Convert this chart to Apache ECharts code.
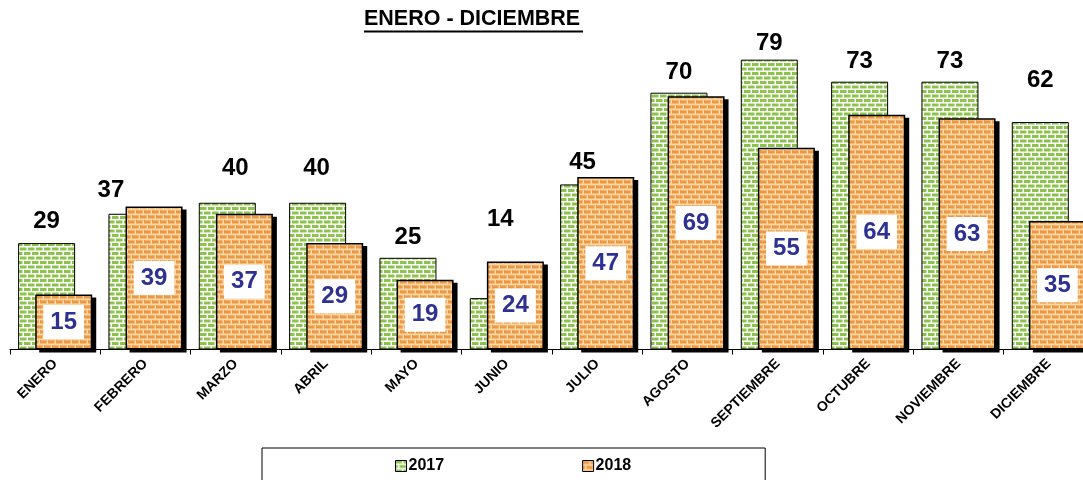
<!DOCTYPE html>
<html>
<head>
<meta charset="utf-8">
<style>
  html, body { margin: 0; padding: 0; background: #ffffff; }
  #chart { width: 1083px; height: 480px; }
</style>
<script src="https://cdn.jsdelivr.net/npm/echarts@6/dist/echarts.min.js"></script>
</head>
<body>
<div id="chart"></div>
<script>
// Monthly totals, January to December
const months = ['ENERO', 'FEBRERO', 'MARZO', 'ABRIL', 'MAYO', 'JUNIO', 'JULIO',
                'AGOSTO', 'SEPTIEMBRE', 'OCTUBRE', 'NOVIEMBRE', 'DICIEMBRE'];
const values2017 = [29, 37, 40, 40, 25, 14, 45, 70, 79, 73, 73, 62];
const values2018 = [15, 39, 37, 29, 19, 24, 47, 69, 55, 64, 63, 35];
const seriesNames = ['2017', '2018'];
const titleText = 'ENERO - DICIEMBRE';

// Hand-placed nudges [dx, dy] for the 2017 value labels
const labelNudge2017 = [[0, -5], [-26, -6], [8, -17], [-1, -17], [0, -3], [2, -62],
                        [-6, -5], [0, -3], [0, 1], [0, -3], [0, -3], [0, -25]];

// Bar geometry: two overlapping bars per month
const BAR_W = 57;
const BAR_GAP = -0.7;                       // fraction of bar width
const ORANGE_SHIFT = BAR_W * (1 + BAR_GAP) / 2; // centre offset of the 2018 bar
const SHADOW_DX = 4, SHADOW_DY = 3;

// Brick fill patterns drawn on small tiles
function brickTile(w, h, rowH, brickW, mortar, brick, highlight) {
  const c = document.createElement('canvas');
  c.width = w; c.height = h;
  const g = c.getContext('2d');
  g.fillStyle = mortar;
  g.fillRect(0, 0, w, h);
  const rows = Math.round(h / rowH);
  for (let r = 0; r < rows; r++) {
    const y = r * rowH;
    const shift = (r % 2) ? brickW / 2 : 0;
    for (let x = -brickW + shift; x < w; x += brickW) {
      g.fillStyle = brick;
      g.fillRect(x, y, brickW - 1.5, rowH - 1.5);
      if (highlight) {
        g.fillStyle = highlight;
        g.fillRect(x + 1, y, brickW - 3, 1);
      }
    }
  }
  return c;
}
const greenTile = brickTile(16, 9, 4.5, 8, '#ffffff', '#8cc34c', null);
const orangeTile = brickTile(16, 10, 5, 8, '#fbd9a6', '#ee9844', '#f5b070');

const chart = echarts.init(document.getElementById('chart'), null, { renderer: 'canvas' });

chart.setOption({
  animation: false,
  backgroundColor: '#ffffff',
  textStyle: { fontFamily: 'Liberation Sans, Arial, sans-serif' },
  title: {
    text: titleText,
    left: 364,
    top: 8,
    padding: 0,
    textStyle: { fontSize: 21.5, fontWeight: 'bold', color: '#000000',
                 fontFamily: 'Liberation Sans, Arial, sans-serif' }
  },
  graphic: [{
    type: 'line',
    shape: { x1: 364, y1: 31.5, x2: 583, y2: 31.5 },
    style: { stroke: '#000000', lineWidth: 2 }
  }],
  legend: {
    data: seriesNames,
    left: 262,
    top: 448,
    orient: 'horizontal',
    padding: [10, 134, 30, 133],
    borderColor: '#000000',
    borderWidth: 1,
    icon: 'rect',
    itemWidth: 11,
    itemHeight: 11,
    itemGap: 138,
    textStyle: { fontSize: 16, fontWeight: 'bold', color: '#000000', padding: [0, 0, 0, -3] },
    itemStyle: { shadowBlur: 0, shadowOffsetX: 0, shadowOffsetY: 0, borderColor: '#000', borderWidth: 1 }
  },
  grid: { left: 10, top: 56, width: 1084, height: 293.5, containLabel: false, outerBoundsMode: 'none' },
  xAxis: {
    type: 'category',
    data: months,
    boundaryGap: true,
    axisLine: { lineStyle: { color: '#000000', width: 1 } },
    axisTick: { show: true, length: 5, lineStyle: { color: '#000000' } },
    axisLabel: {
      interval: 0,
      rotate: 45,
      margin: 12,
      fontSize: 14,
      fontWeight: 'bold',
      color: '#000000'
    }
  },
  yAxis: {
    type: 'value',
    min: 0,
    max: 80,
    show: false,
    splitLine: { show: false }
  },
  series: [
    {
      name: seriesNames[0],
      type: 'bar',
      data: values2017.map((v, i) => ({
        value: v,
        label: { offset: labelNudge2017[i] }
      })),
      barWidth: BAR_W,
      barGap: (BAR_GAP * 100) + '%',
      itemStyle: {
        color: { image: greenTile, repeat: 'repeat' },
        borderColor: '#000000',
        borderWidth: 1
      },
      label: {
        show: true,
        position: 'top',
        distance: 5,
        fontSize: 24,
        fontWeight: 'bold',
        color: '#000000'
      }
    },
    {
      // drop shadow behind the 2018 bars
      name: 'sombra',
      type: 'custom',
      silent: true,
      data: values2018.map((v, i) => [i, v]),
      encode: { x: 0, y: 1 },
      renderItem: function (params, api) {
        const top = api.coord([api.value(0), api.value(1)]);
        const base = api.coord([api.value(0), 0]);
        return {
          type: 'rect',
          shape: {
            x: top[0] + ORANGE_SHIFT - BAR_W / 2 + SHADOW_DX,
            y: top[1] + SHADOW_DY,
            width: BAR_W,
            height: base[1] - top[1]
          },
          style: { fill: '#000000' }
        };
      }
    },
    {
      name: seriesNames[1],
      type: 'bar',
      data: values2018,
      barWidth: BAR_W,
      barGap: (BAR_GAP * 100) + '%',
      itemStyle: {
        color: { image: orangeTile, repeat: 'repeat' },
        borderColor: '#000000',
        borderWidth: 1.5
      },
      label: {
        show: true,
        position: 'inside',
        fontSize: 24,
        fontWeight: 'bold',
        color: '#2e3192',
        backgroundColor: '#ffffff',
        padding: [6, 7, 4, 7]
      }
    }
  ]
});
</script>
</body>
</html>
